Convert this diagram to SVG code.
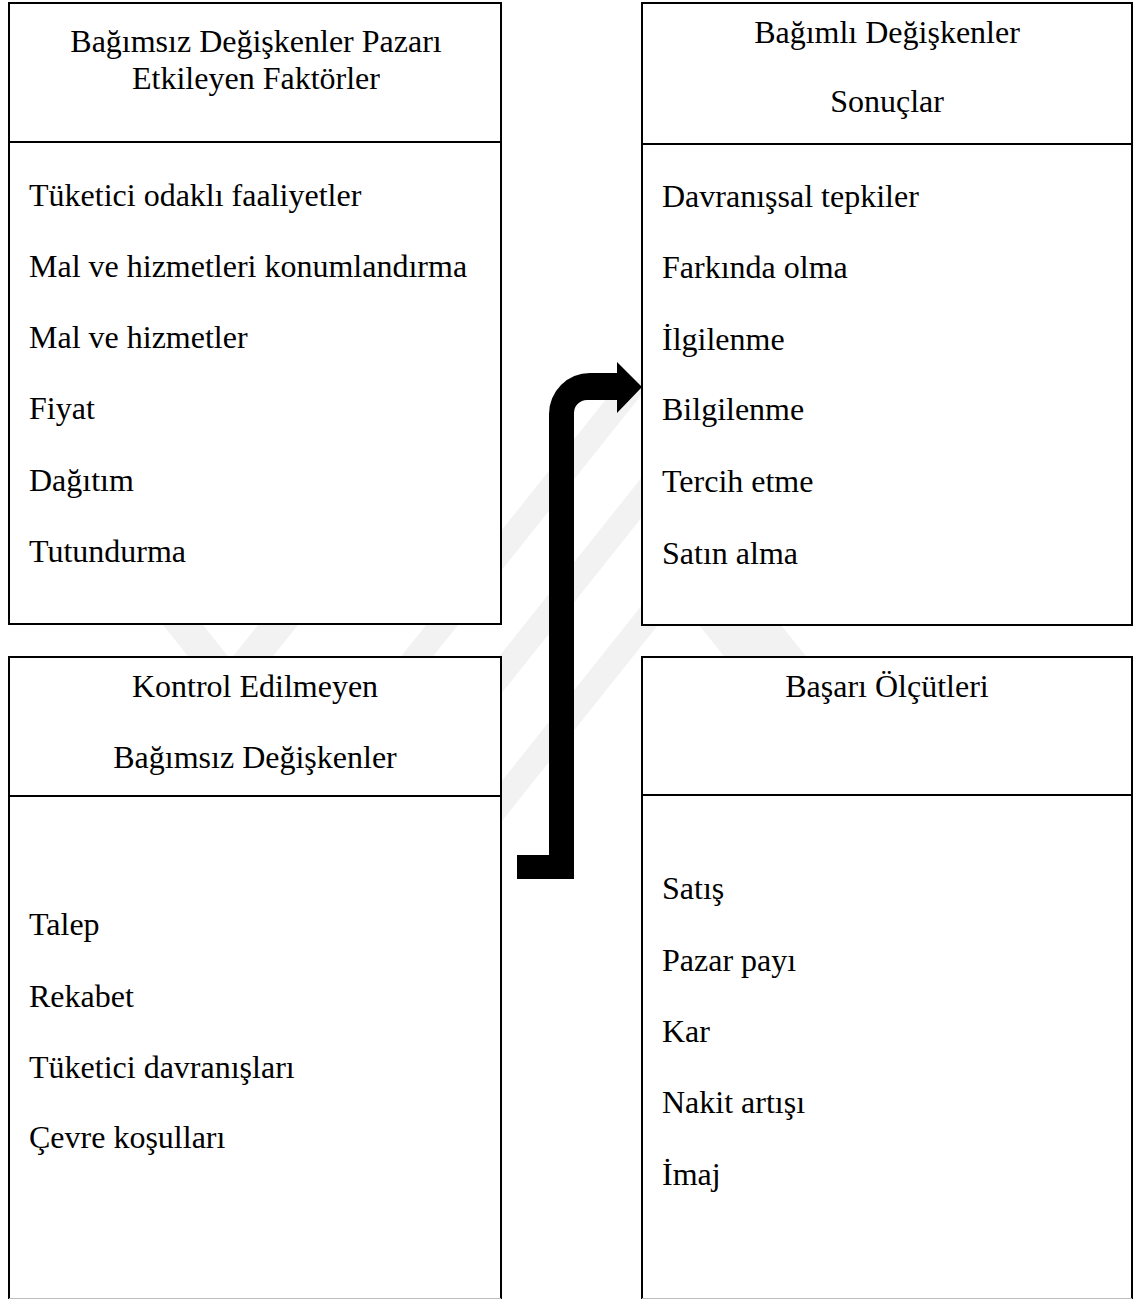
<svg xmlns="http://www.w3.org/2000/svg" width="1136" height="1300" viewBox="0 0 1136 1300">
<style>
.box{fill:#fff;stroke:#000;stroke-width:2}
.div{stroke:#000;stroke-width:2}
.t{font-family:"Liberation Serif","Times New Roman",serif;font-size:32px;fill:#000}
.c{text-anchor:middle}
.wm{fill:#f2f2f2}
</style>
<defs>
<clipPath id="wmclip"><rect x="100" y="380" width="820" height="450"/></clipPath>
</defs>
<rect width="1136" height="1300" fill="#fff"/>
<g id="watermark" clip-path="url(#wmclip)">
<polygon class="wm" points="685,300 717,300 239,900 207,900"/>
<polygon class="wm" points="783,300 815,300 337,900 305,900"/>
<polygon class="wm" points="885,300 917,300 439,900 407,900"/>
<polygon class="wm" points="143,600 183,600 263,700 223,700"/>
<polygon class="wm" points="278,600 318,600 238,700 198,700"/>
<polygon class="wm" points="679,600 761,600 841,700 759,700"/>
</g>
<g id="node-bagimsiz">
<rect class="box" x="9" y="3" width="492" height="621"/>
<line class="div" x1="9" y1="142" x2="501" y2="142"/>
<text class="t c" x="256" y="52">Bağımsız Değişkenler Pazarı</text>
<text class="t c" x="256" y="89">Etkileyen Faktörler</text>
<text class="t" x="29" y="206">Tüketici odaklı faaliyetler</text>
<text class="t" x="29" y="277">Mal ve hizmetleri konumlandırma</text>
<text class="t" x="29" y="348">Mal ve hizmetler</text>
<text class="t" x="29" y="419">Fiyat</text>
<text class="t" x="29" y="491">Dağıtım</text>
<text class="t" x="29" y="562">Tutundurma</text>
</g>
<g id="node-bagimli">
<rect class="box" x="642" y="3" width="490" height="622"/>
<line class="div" x1="642" y1="144" x2="1132" y2="144"/>
<text class="t c" x="887" y="43">Bağımlı Değişkenler</text>
<text class="t c" x="887" y="112">Sonuçlar</text>
<text class="t" x="662" y="207">Davranışsal tepkiler</text>
<text class="t" x="662" y="278">Farkında olma</text>
<text class="t" x="662" y="350">İlgilenme</text>
<text class="t" x="662" y="420">Bilgilenme</text>
<text class="t" x="662" y="492">Tercih etme</text>
<text class="t" x="662" y="564">Satın alma</text>
</g>
<g id="node-kontrol">
<path class="box" d="M9,1299 V657 H501 V1299"/>
<line x1="9" y1="1298.5" x2="501" y2="1298.5" stroke="#bbb" stroke-width="1"/>
<line class="div" x1="9" y1="796" x2="501" y2="796"/>
<text class="t c" x="255" y="697">Kontrol Edilmeyen</text>
<text class="t c" x="255" y="768">Bağımsız Değişkenler</text>
<text class="t" x="29" y="935">Talep</text>
<text class="t" x="29" y="1007">Rekabet</text>
<text class="t" x="29" y="1078">Tüketici davranışları</text>
<text class="t" x="29" y="1148">Çevre koşulları</text>
</g>
<g id="node-basari">
<path class="box" d="M642,1299 V657 H1132 V1299"/>
<line x1="642" y1="1298.5" x2="1132" y2="1298.5" stroke="#bbb" stroke-width="1"/>
<line class="div" x1="642" y1="795" x2="1132" y2="795"/>
<text class="t c" x="887" y="697">Başarı Ölçütleri</text>
<text class="t" x="662" y="899">Satış</text>
<text class="t" x="662" y="971">Pazar payı</text>
<text class="t" x="662" y="1042">Kar</text>
<text class="t" x="662" y="1113">Nakit artışı</text>
<text class="t" x="662" y="1185">İmaj</text>
</g>
<g id="connectors">
<path d="M517,879 H574 V413 A13,13 0 0 1 587,400 H617 V413 L642,387 L617,362 V373 H590 A41,41 0 0 0 549,414 V855 H517 Z" fill="#000"/>
</g>
</svg>
